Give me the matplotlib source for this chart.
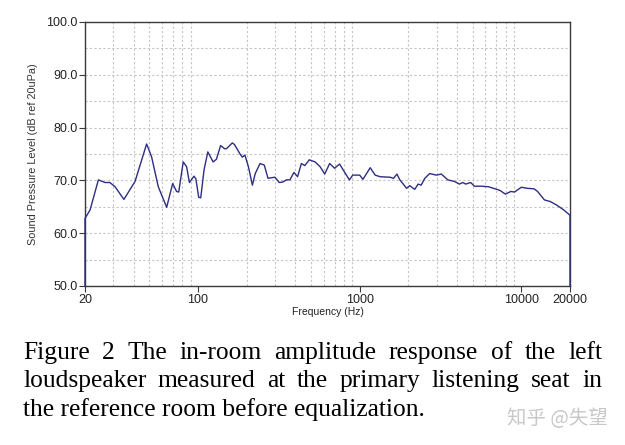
import matplotlib
matplotlib.use("Agg")
from matplotlib import pyplot as plt
from matplotlib.ticker import LogLocator, NullFormatter, FixedLocator, FixedFormatter

# frequency response
freq = [20, 20, 21.5, 24.2, 26.6, 28.5, 30.7, 34.8, 40.8, 48.1, 51.6, 56.8, 64.0,
        69.7, 73.7, 76, 81, 85, 88.5, 94.4, 97, 101, 104, 109, 115, 124, 130,
        138, 146, 150, 163, 168, 182, 188, 195, 205, 217, 226, 242, 257, 271,
        299, 318, 335, 352, 370, 392, 413, 436, 458, 488, 530, 569, 608, 652,
        700, 751, 805, 864, 906, 1000, 1048, 1162, 1247, 1337, 1540, 1620,
        1700, 1772, 1860, 1950, 2040, 2190, 2300, 2400, 2530, 2710, 2980,
        3200, 3510, 3860, 4140, 4350, 4530, 4860, 5130, 5660, 6260, 6730,
        7380, 7970, 8600, 9070, 10000, 10900, 12000, 12600, 13900, 15100,
        16600, 18300, 20000, 20000]
spl = [50, 62.8, 64.4, 70.1, 69.6, 69.6, 68.8, 66.4, 69.8, 76.9, 74.5, 68.8, 64.9,
       69.4, 67.9, 67.8, 73.5, 72.6, 69.6, 70.8, 70.3, 66.8, 66.7, 72.0, 75.4, 73.5, 74.0,
       76.6, 76.0, 76.0, 77.1, 76.8, 75.0, 74.4, 74.8, 72.6, 69.1, 71.3, 73.2, 72.9, 70.4,
       70.6, 69.6, 69.7, 70.1, 70.1, 71.5, 70.7, 73.2, 72.8, 73.9, 73.5, 72.6, 71.2, 73.2,
       72.3, 73.1, 71.6, 70.1, 71.0, 71.0, 70.2, 72.4, 71.0, 70.7, 70.6, 70.4,
       71.2, 70.1, 69.3, 68.5, 69.0, 68.3, 69.3, 69.1, 70.4, 71.3, 71.0,
       71.2, 70.1, 69.8, 69.3, 69.6, 69.3, 69.6, 68.9, 68.9, 68.8, 68.5,
       68.1, 67.4, 67.9, 67.8, 68.7, 68.5, 68.4, 67.9, 66.3, 66.0,
       65.3, 64.4, 63.4, 50]

xticks = [20, 100, 1000, 10000, 20000]
xtick_labels = ["20", "100", "1000", "10000", "20000"]
yticks = [50, 60, 70, 80, 90, 100]

caption = ["Figure 2 The in-room amplitude response of the left",
           "loudspeaker measured at the primary listening seat in",
           "the reference room before equalization."]
watermark = "知乎 @失望"

W, H = 625, 445
fig = plt.figure(figsize=(W / 100, H / 100), dpi=100)
ax = fig.add_axes([85 / W, 1 - 286 / H, 485 / W, 264 / H])

ax.plot(freq, spl, color="#2e2e82", lw=1.0, clip_on=False, zorder=3)

ax.set_xscale("log")
ax.set_xlim(20, 20000)
ax.set_ylim(50, 100)

ax.xaxis.set_major_locator(FixedLocator(xticks))
ax.xaxis.set_major_formatter(FixedFormatter(xtick_labels))
ax.xaxis.set_minor_locator(LogLocator(base=10, subs=(1, 2, 3, 4, 5, 6, 7, 8, 9), numticks=20))
ax.xaxis.set_minor_formatter(NullFormatter())
ax.set_yticks(yticks)
ax.set_yticks(range(55, 100, 10), minor=True)
ax.set_yticklabels(["%.1f" % v for v in yticks])

grid_kw = dict(color="#c4c4c4", lw=0.8, linestyle=(0, (2, 2)))
ax.grid(False)
ax.xaxis.grid(True, which="minor", **grid_kw)
ax.yaxis.grid(True, which="both", **grid_kw)
ax.set_axisbelow(True)

for s in ax.spines.values():
    s.set_color("#3a3a3a")
    s.set_linewidth(1.0)

ax.tick_params(axis="both", which="major", direction="out", length=4, width=0.8,
               color="#3a3a3a", labelsize=9, labelcolor="#222222", pad=1.5)
ax.tick_params(axis="both", which="minor", length=0)
for lab in ax.get_xticklabels() + ax.get_yticklabels():
    lab.set_family("Liberation Sans")

ax.set_xlabel("Frequency (Hz)", fontsize=7.5, family="Liberation Sans", color="#222222", labelpad=1)
ax.set_ylabel("Sound Pressure Level (dB ref 20uPa)", fontsize=7.8, family="Liberation Sans",
              color="#333333", labelpad=6)

# justified caption
renderer = fig.canvas.get_renderer()
x0, x1 = 23, 602
baselines = [359, 387, 416]
cap_kw = dict(fontsize=18.4, family="Liberation Serif", color="black", va="baseline", ha="left")
for i, line in enumerate(caption):
    words = line.split()
    y = 1 - baselines[i] / H
    if i == len(caption) - 1:
        fig.text(x0 / W, y, line, **cap_kw)
        continue
    widths = []
    for w in words:
        t = fig.text(0, 0, w, **cap_kw)
        widths.append(t.get_window_extent(renderer).width)
        t.remove()
    gap = (x1 - x0 - sum(widths)) / (len(words) - 1)
    x = x0
    for w, wd in zip(words, widths):
        fig.text(x / W, y, w, **cap_kw)
        x += wd + gap

fig.text(608 / W, 1 - 418 / H, watermark, fontsize=14, color="#c8c8c8", ha="right", va="center",
         family=["Noto Sans CJK SC", "DejaVu Sans"])

fig.savefig("out.png", dpi=100)
